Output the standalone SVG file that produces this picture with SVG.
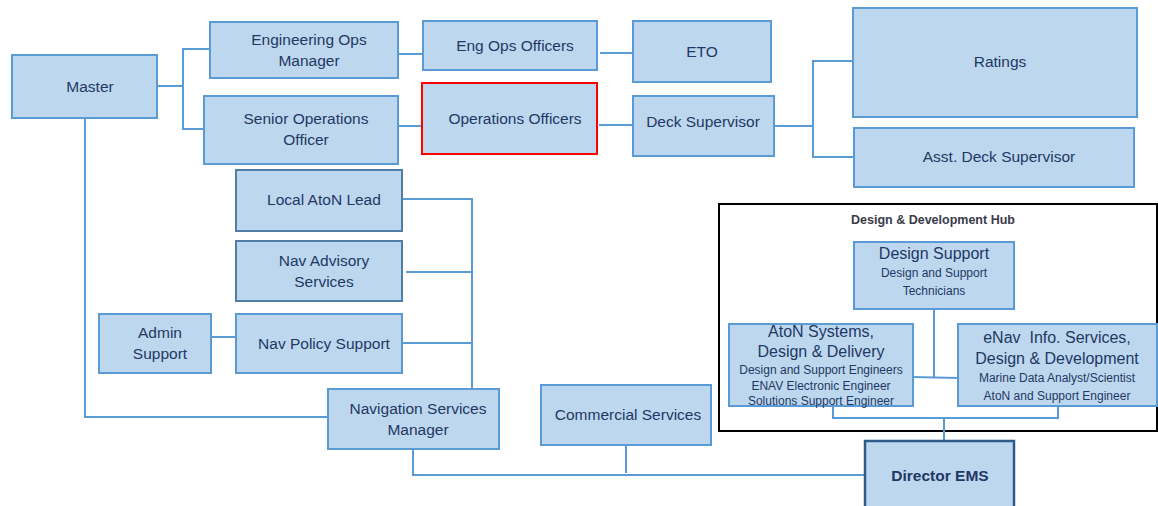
<svg xmlns="http://www.w3.org/2000/svg" width="1158" height="506" viewBox="0 0 1158 506">
<style>
.b{fill:#BDD7EE;stroke:#5B9BD5;stroke-width:2}
.d{fill:#BDD7EE;stroke:#4F7FA8;stroke-width:2}
.r{fill:#BDD7EE;stroke:#FF0000;stroke-width:2}
.t{font-family:"Liberation Sans",Arial,sans-serif;font-size:15.5px;fill:#1F3864;text-anchor:middle}
.s{font-family:"Liberation Sans",Arial,sans-serif;font-size:12px;fill:#1F3864;text-anchor:middle}
.m{font-family:"Liberation Sans",Arial,sans-serif;font-size:16px;fill:#1F3864;text-anchor:middle;white-space:pre}
.c{fill:none;stroke:#5B9BD5;stroke-width:2}
</style>
<rect width="1158" height="506" fill="#FFFFFF"/>
<g id="hub">
<rect x="719" y="204" width="438" height="227" fill="none" stroke="#000000" stroke-width="2"/>
<text x="933" y="224" style="font-family:'Liberation Sans',Arial,sans-serif;font-size:12.5px;font-weight:bold;fill:#3A3A4A;text-anchor:middle">Design &amp; Development Hub</text>
</g>
<g id="connectors">
<polyline class="c" points="157,86 183,86"/>
<polyline class="c" points="210,49 183,49 183,129 204,129"/>
<polyline class="c" points="398,54 423,54"/>
<polyline class="c" points="600,53 633,53"/>
<polyline class="c" points="398,126 422,126"/>
<polyline class="c" points="599,125 633,125"/>
<polyline class="c" points="774,126 813,126"/>
<polyline class="c" points="853,61 813,61 813,157 854,157"/>
<polyline class="c" points="85,118 85,417 328,417"/>
<polyline class="c" points="402,199 472,199 472,389"/>
<polyline class="c" points="406,272 472,272"/>
<polyline class="c" points="402,343 472,343"/>
<polyline class="c" points="211,337 236,337"/>
<polyline class="c" points="413,449 413,475 865,475"/>
<polyline class="c" points="626,445 626,473"/>
<polyline class="c" points="944,441 944,418"/>
<polyline class="c" points="833,406 833,418 1058,418 1058,406"/>
<polyline class="c" points="934,309 934,377"/>
<polyline class="c" points="913,377 958,378"/>
</g>
<g id="master"><rect class="b" x="12" y="55" width="145" height="63"/><text class="t" x="90" y="92">Master</text></g>
<g id="eng-ops-manager"><rect class="b" x="210" y="22" width="188" height="56"/><text class="t" x="309" y="45">Engineering Ops</text><text class="t" x="309" y="66">Manager</text></g>
<g id="senior-ops-officer"><rect class="b" x="204" y="96" width="194" height="68"/><text class="t" x="306" y="124">Senior Operations</text><text class="t" x="306" y="145">Officer</text></g>
<g id="eng-ops-officers"><rect class="b" x="423" y="21" width="174" height="49"/><text class="t" x="515" y="51">Eng Ops Officers</text></g>
<g id="eto"><rect class="b" x="633" y="21" width="138" height="61"/><text class="t" x="702" y="57">ETO</text></g>
<g id="operations-officers"><rect class="r" x="422" y="83" width="175" height="71"/><text class="t" x="515" y="124">Operations Officers</text></g>
<g id="deck-supervisor"><rect class="b" x="633" y="96" width="141" height="60"/><text class="t" x="703" y="127">Deck Supervisor</text></g>
<g id="ratings"><rect class="b" x="853" y="8" width="284" height="109"/><text class="t" x="1000" y="67">Ratings</text></g>
<g id="asst-deck-supervisor"><rect class="b" x="854" y="128" width="280" height="59"/><text class="t" x="999" y="162">Asst. Deck Supervisor</text></g>
<g id="local-aton-lead"><rect class="d" x="236" y="170" width="166" height="61"/><text class="t" x="324" y="205">Local AtoN Lead</text></g>
<g id="nav-advisory"><rect class="d" x="236" y="241" width="166" height="60"/><text class="t" x="324" y="266">Nav Advisory</text><text class="t" x="324" y="287">Services</text></g>
<g id="admin-support"><rect class="b" x="99" y="314" width="112" height="59"/><text class="t" x="160" y="338">Admin</text><text class="t" x="160" y="359">Support</text></g>
<g id="nav-policy"><rect class="b" x="236" y="314" width="166" height="59"/><text class="t" x="324" y="349">Nav Policy Support</text></g>
<g id="nav-services-manager"><rect class="b" x="328" y="389" width="171" height="60"/><text class="t" x="418" y="414">Navigation Services</text><text class="t" x="418" y="435">Manager</text></g>
<g id="commercial-services"><rect class="b" x="541" y="385" width="170" height="60"/><text class="t" x="628" y="420">Commercial Services</text></g>
<g id="director-ems"><rect x="865" y="441" width="149" height="70" fill="#BDD7EE" stroke="#2E5C8A" stroke-width="2.5"/><text class="t" x="940" y="481" style="font-weight:bold">Director EMS</text></g>
<g id="design-support"><rect class="b" x="854" y="242" width="160" height="67"/><text class="m" x="934" y="259">Design Support</text><text class="s" x="934" y="277">Design and Support</text><text class="s" x="934" y="295">Technicians</text></g>
<g id="aton-systems"><rect class="b" x="729" y="324" width="184" height="82"/><text class="m" x="821" y="337">AtoN Systems,</text><text class="m" x="821" y="357">Design &amp; Delivery</text><text class="s" x="821" y="374">Design and Support Engineers</text><text class="s" x="821" y="390">ENAV Electronic Engineer</text><text class="s" x="821" y="405">Solutions Support Engineer</text></g>
<g id="enav-info"><rect class="b" x="958" y="324" width="199" height="82"/><text class="m" x="1057" y="343">eNav  Info. Services,</text><text class="m" x="1057" y="364">Design &amp; Development</text><text class="s" x="1057" y="382">Marine Data Analyst/Scientist</text><text class="s" x="1057" y="400">AtoN and Support Engineer</text></g>
</svg>
